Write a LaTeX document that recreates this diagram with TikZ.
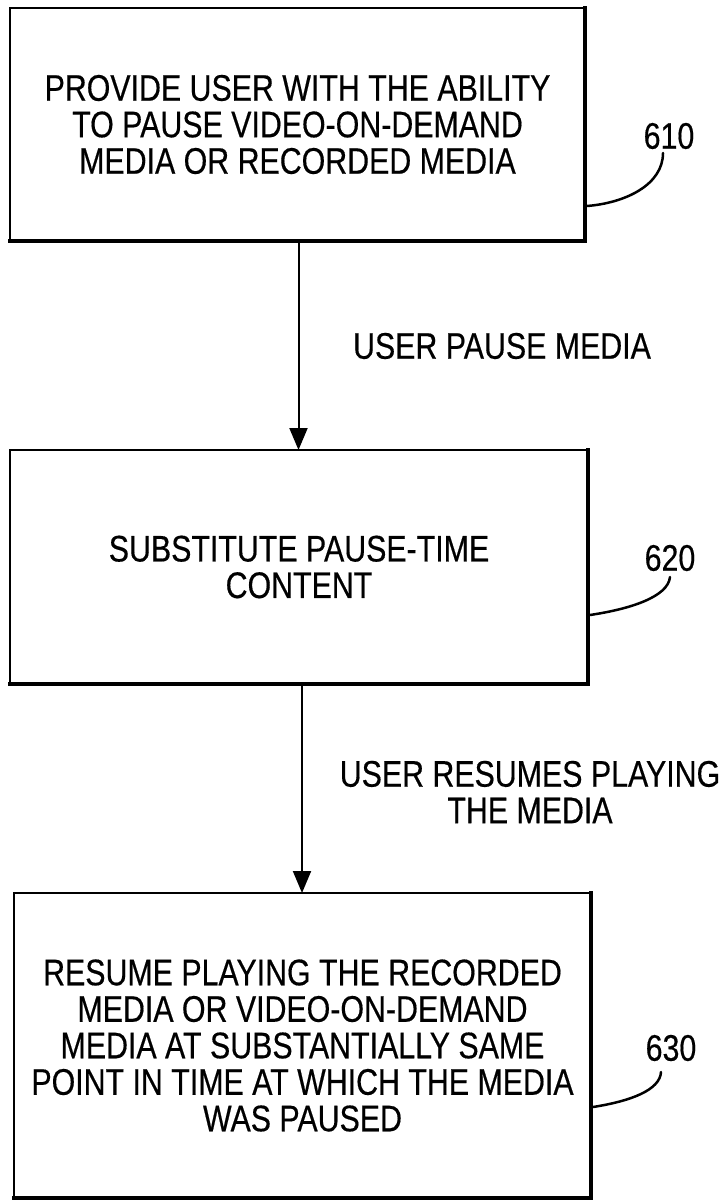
\documentclass[tikz,border=0pt]{standalone}
\usepackage{fontspec}
\setmainfont{Liberation Sans}[FakeStretch=0.82,FakeBold=0.4]
\usetikzlibrary{arrows.meta,calc}
\begin{document}
\begin{tikzpicture}[x=1pt,y=-1pt,
  every node/.style={inner sep=0pt,outer sep=0pt},
  txt/.style={font=\fontsize{37}{36.5}\selectfont,align=center},
  stepbox/.style={draw,line width=2.5pt,txt},
  heavy/.style={line width=4.5pt,line cap=rect},
  flow/.style={line width=2pt,-{Triangle[length=22pt,width=18pt]}},
  leader/.style={line width=2.5pt,line cap=round}]
\useasboundingbox[fill=white] (0,0) rectangle (727,1201);

\node[stepbox,minimum width=575pt,minimum height=233pt] (b1) at (297.5,124.5)
  {PROVIDE USER WITH THE ABILITY\\TO PAUSE VIDEO-ON-DEMAND\\MEDIA OR RECORDED MEDIA};
\node[stepbox,minimum width=578pt,minimum height=234pt] (b2) at (299,567)
  {SUBSTITUTE PAUSE-TIME\\CONTENT};
\node[stepbox,minimum width=577pt,minimum height=305pt] (b3) at (302.5,1045.5)
  {RESUME PLAYING THE RECORDED\\MEDIA OR VIDEO-ON-DEMAND\\MEDIA AT SUBSTANTIALLY SAME\\POINT IN TIME AT WHICH THE MEDIA\\WAS PAUSED};

\foreach \b in {b1,b2,b3}{
  \draw[heavy] (\b.north east) -- (\b.south east) -- (\b.south west);
}

\node[txt] (l1) at (502,346) {USER PAUSE MEDIA};
\node[txt] (l2) at (530,792) {USER RESUMES PLAYING\\THE MEDIA};

\node[txt] (n1) at (669,136) {610};
\node[txt] (n2) at (670,558) {620};
\node[txt] (n3) at (671,1048) {630};

\coordinate (a1) at ($(b1.south)+(1,2)$);
\coordinate (a2) at ($(b2.south)+(3,2)$);
\draw[flow] (a1) -- (a1 |- b2.north);
\draw[flow] (a2) -- (a2 |- b3.north);

\coordinate (s1) at ($(b1.south east)+(2,-35)$);
\coordinate (s2) at ($(b2.south east)+(2,-69)$);
\coordinate (s3) at ($(b3.south east)+(2,-91)$);
\coordinate (e1) at (663,153);
\coordinate (e2) at (670,577);
\coordinate (e3) at (661,1072);
\draw[leader] (s1) .. controls ($(s1)+(38,-3)$) and ($(e1)+(0,32)$) .. (e1);
\draw[leader] (s2) .. controls ($(s2)+(40,-6)$) and ($(e2)+(-2,20)$) .. (e2);
\draw[leader] (s3) .. controls ($(s3)+(38,-6)$) and ($(e3)+(-1,18)$) .. (e3);
\end{tikzpicture}
\end{document}
